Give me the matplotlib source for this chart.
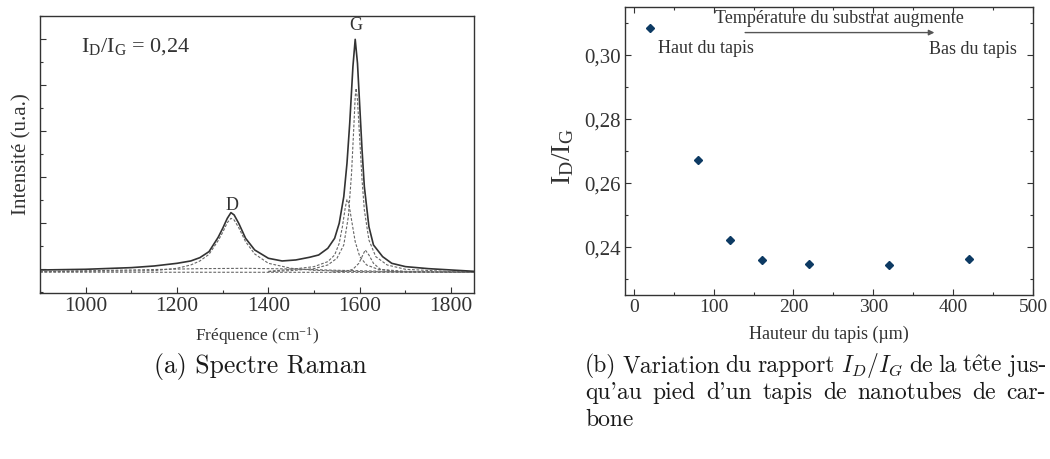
import matplotlib.pyplot as plt
from matplotlib.ticker import MultipleLocator, FuncFormatter

plt.rcParams['font.family'] = ['Liberation Serif', 'DejaVu Serif']
plt.rcParams['mathtext.fontset'] = 'custom'
plt.rcParams['mathtext.rm'] = 'Liberation Serif'
plt.rcParams['mathtext.it'] = 'Liberation Serif:italic'
plt.rcParams['mathtext.bf'] = 'Liberation Serif:bold'

# (a) spectre Raman (unites arbitraires)
freq = [900, 1000, 1100, 1150, 1200, 1230, 1250, 1270, 1290, 1300, 1310, 1318,
        1325, 1335, 1350, 1370, 1400, 1430, 1460, 1490, 1510, 1530, 1545, 1555,
        1565, 1572, 1578, 1585, 1590, 1595, 1600, 1605, 1610, 1620, 1630, 1650,
        1670, 1700, 1750, 1800, 1850]
intens = [978, 993, 1029, 1065, 1123, 1174, 1246, 1377, 1688, 1884, 2101, 2225,
          2174, 1993, 1667, 1413, 1232, 1174, 1196, 1254, 1304, 1449, 1667, 1993,
          2572, 3297, 4166, 5398, 5992, 5471, 4529, 3587, 2790, 1920, 1522, 1268,
          1123, 1051, 1007, 978, 949]

# composantes de l'ajustement (pointilles)
d_x = [900, 1000, 1100, 1150, 1200, 1230, 1250, 1270, 1290, 1300, 1310, 1318,
       1325, 1335, 1350, 1370, 1400, 1450, 1500, 1600, 1850]
d_y = [942, 949, 957, 964, 1014, 1087, 1174, 1319, 1616, 1797, 2007, 2101,
       2065, 1898, 1594, 1326, 1123, 1014, 971, 942, 928]

large_x = [900, 1100, 1250, 1350, 1450, 1550, 1700, 1850]
large_y = [942, 978, 1007, 1014, 1000, 971, 942, 928]

g1_x = [1400, 1450, 1500, 1530, 1545, 1555, 1562, 1568, 1572, 1576, 1582,
        1590, 1600, 1615, 1640, 1700, 1850]
g1_y = [949, 993, 1051, 1159, 1304, 1558, 1920, 2319, 2514, 2427, 2065,
        1594, 1268, 1087, 993, 949, 928]

g2_x = [1400, 1450, 1500, 1530, 1550, 1565, 1575, 1582, 1587, 1590, 1592,
        1595, 1600, 1605, 1610, 1620, 1635, 1660, 1700, 1800, 1850]
g2_y = [942, 964, 1007, 1087, 1232, 1522, 2138, 3080, 4094, 4746, 4927,
        4674, 3804, 2935, 2283, 1630, 1268, 1087, 993, 942, 935]

g3_x = [1540, 1570, 1585, 1598, 1605, 1612, 1620, 1630, 1645, 1680, 1720]
g3_y = [935, 949, 993, 1123, 1268, 1413, 1304, 1123, 993, 942, 935]

base_x = [900, 1850]
base_y = [930, 926]

# (b) rapport ID/IG selon la hauteur du tapis
hauteur = [20, 80, 120, 160, 220, 320, 420]
rapport = [0.3085, 0.2673, 0.2422, 0.2359, 0.2347, 0.2345, 0.2362]

gris = '#333333'
fig = plt.figure(figsize=(10.5, 4.59), dpi=100)

# ---- (a)
ax1 = fig.add_axes([0.0381, 0.3617, 0.4133, 0.6035])
for xs, ys in [(base_x, base_y), (large_x, large_y), (d_x, d_y),
               (g1_x, g1_y), (g2_x, g2_y), (g3_x, g3_y)]:
    ax1.plot(xs, ys, color='#666666', lw=0.8, ls=(0, (2.5, 1.5)))
ax1.plot(freq, intens, color=gris, lw=1.2)
ax1.set_xlim(900, 1850)
ax1.set_ylim(478, 6500)
ax1.xaxis.set_major_locator(MultipleLocator(200))
ax1.xaxis.set_minor_locator(MultipleLocator(100))
ax1.yaxis.set_major_locator(MultipleLocator(1000))
ax1.yaxis.set_minor_locator(MultipleLocator(500))
ax1.tick_params(which='both', direction='in', top=False, right=False,
                labelleft=False, colors=gris, labelsize=15.5, pad=3)
ax1.tick_params(which='major', length=4.5, width=0.8)
ax1.tick_params(which='minor', length=2.5, width=0.8)
ax1.set_ylabel('Intensité (u.a.)', fontsize=15, color=gris)
ax1.yaxis.set_label_coords(-0.02, 0.5)
ax1.set_xlabel('Fréquence (cm$^{-1}$)', fontsize=12.5, color=gris)
ax1.xaxis.set_label_coords(0.5, -0.115)
ax1.text(0.095, 0.89, 'I$_\\mathrm{D}$/I$_\\mathrm{G}$ = 0,24', transform=ax1.transAxes,
         fontsize=16, color=gris, va='center')
ax1.text(1320, 2380, 'D', fontsize=13, color=gris, ha='center', va='center')
ax1.text(1592, 6300, 'G', fontsize=13, color=gris, ha='center', va='center')

# ---- (b)
ax2 = fig.add_axes([0.5952, 0.3573, 0.3886, 0.6275])
ax2.plot(hauteur, rapport, ls='none', marker='D', ms=4.5, color='#0d3a63')
ax2.set_xlim(-11, 500)
ax2.set_ylim(0.2251, 0.3151)
ax2.xaxis.set_major_locator(MultipleLocator(100))
ax2.xaxis.set_minor_locator(MultipleLocator(50))
ax2.yaxis.set_major_locator(MultipleLocator(0.02))
ax2.yaxis.set_minor_locator(MultipleLocator(0.01))
ax2.yaxis.set_major_formatter(FuncFormatter(lambda v, p: f'{v:.2f}'.replace('.', ',')))
ax2.tick_params(which='both', direction='in', top=True, right=True, colors=gris, pad=3)
ax2.tick_params(axis='x', labelsize=14)
ax2.tick_params(axis='y', labelsize=15)
ax2.tick_params(which='major', length=4, width=0.8)
ax2.tick_params(which='minor', length=2.5, width=0.8)
ax2.set_ylabel('I$_\\mathrm{D}$/I$_\\mathrm{G}$', fontsize=20, color=gris)
ax2.yaxis.set_label_coords(-0.12, 0.48)
ax2.set_xlabel('Hauteur du tapis (µm)', fontsize=13, color=gris)
ax2.xaxis.set_label_coords(0.5, -0.105)
ax2.text(258, 0.3116, 'Température du substrat augmente', fontsize=13, color=gris,
         ha='center', va='center')
ax2.annotate('', xy=(380, 0.3071), xytext=(136, 0.3071),
             arrowprops=dict(arrowstyle='-|>', color='#555555', lw=1, mutation_scale=8))
ax2.text(31, 0.3022, 'Haut du tapis', fontsize=13, color=gris, va='center')
ax2.text(370, 0.3017, 'Bas du tapis', fontsize=13, color=gris, va='center')

for ax in (ax1, ax2):
    for s in ax.spines.values():
        s.set_color(gris)
        s.set_linewidth(1)

# ---- legendes des sous-figures
cap = dict(fontsize=17, family=['cmr10', 'DejaVu Serif'], math_fontfamily='cm',
           color='#1a1a1a', va='center')
W, H = 1050, 459
fig.text(260 / W, 1 - 366 / H, '(a) Spectre Raman', ha='center',
         **{**cap, 'fontsize': 18.5})

lignes = [
    ['(b)', 'Variation', 'du', 'rapport', '$I_D/I_G$', 'de', 'la',
     't$\\hat{\\mathrm{e}}$te', 'jus-'],
    ["qu'au", 'pied', "d'un", 'tapis', 'de', 'nanotubes', 'de', 'car-'],
]
r = fig.canvas.get_renderer()
x0, x1 = 585, 1046
for i, mots in enumerate(lignes):
    y = 1 - (366 + 27 * i) / H
    objs = [fig.text(0, y, m, ha='left', **cap) for m in mots]
    larg = [o.get_window_extent(r).width for o in objs]
    esp = (x1 - x0 - sum(larg)) / (len(mots) - 1)
    x = x0
    for o, w in zip(objs, larg):
        o.set_x(x / W)
        x += w + esp
fig.text(x0 / W, 1 - 420 / H, 'bone', ha='left', **cap)

fig.savefig('out.png', dpi=100)
